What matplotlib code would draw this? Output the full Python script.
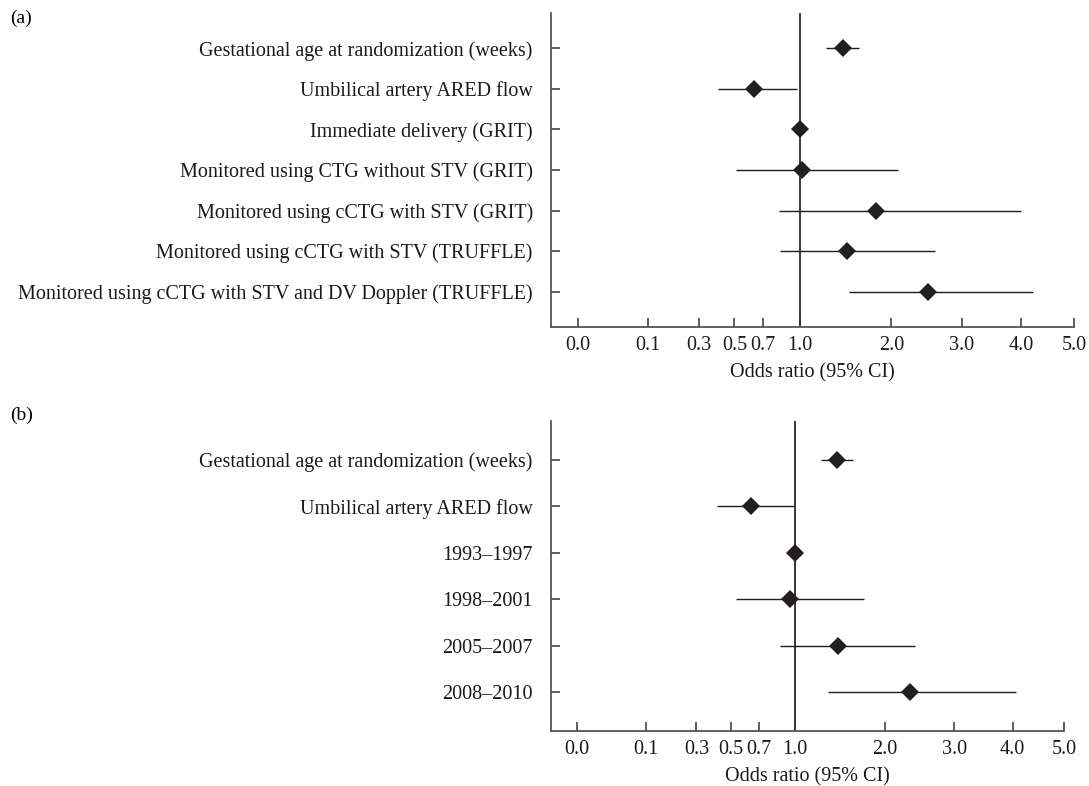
import matplotlib
matplotlib.use("Agg")
import matplotlib.pyplot as plt
import numpy as np

plt.rcParams['font.family'] = ['Liberation Serif', 'DejaVu Serif']

# panel (a)
labels_a = ["Gestational age at randomization (weeks)",
            "Umbilical artery ARED flow",
            "Immediate delivery (GRIT)",
            "Monitored using CTG without STV (GRIT)",
            "Monitored using cCTG with STV (GRIT)",
            "Monitored using cCTG with STV (TRUFFLE)",
            "Monitored using cCTG with STV and DV Doppler (TRUFFLE)"]
or_a = [1.43, 0.63, 1.00, 1.02, 1.81, 1.47, 2.50]
lo_a = [1.25, 0.40, 1.00, 0.51, 0.82, 0.83, 1.50]
hi_a = [1.61, 0.98, 1.00, 2.08, 4.00, 2.60, 4.21]

# panel (b)
labels_b = ["Gestational age at randomization (weeks)",
            "Umbilical artery ARED flow",
            "1993–1997",
            "1998–2001",
            "2005–2007",
            "2008–2010"]
or_b = [1.42, 0.64, 1.00, 0.96, 1.44, 2.33]
lo_b = [1.25, 0.41, 1.00, 0.53, 0.87, 1.33]
hi_b = [1.60, 1.00, 1.00, 1.74, 2.41, 4.07]

xticks = [0.0, 0.1, 0.3, 0.5, 0.7, 1.0, 2.0, 3.0, 4.0, 5.0]

FS = 14.5


# square-root axis (signed so the left margin below 0 works)
def fwd(x):
    return np.sign(x) * np.sqrt(np.abs(x))


def inv(y):
    return np.sign(y) * y ** 2


def forest(ax, labels, ors, lo, hi, pad_y):
    n = len(labels)
    y = np.arange(n, 0, -1)
    ax.set_xscale('function', functions=(fwd, inv))
    ax.axvline(1.0, color='#2a2a2a', lw=1.3, zorder=1)
    ax.hlines(y, lo, hi, color='#1e1e1e', lw=1.0, zorder=2)
    ax.plot(ors, y, 'D', color='#231f20', ms=8.8, mew=0, zorder=3)
    ax.set_xlim(-0.0145, 5.0)
    ax.set_ylim(1 - pad_y, n + pad_y)
    ax.set_yticks(y)
    ax.set_yticklabels(labels)
    ax.set_xticks(xticks)
    ax.set_xticklabels(["%.1f" % t for t in xticks])
    for s in ('top', 'right'):
        ax.spines[s].set_visible(False)
    for s in ('left', 'bottom'):
        ax.spines[s].set_color('#555555')
        ax.spines[s].set_linewidth(1.3)
    ax.tick_params(axis='y', direction='in', length=6.5, width=1.1,
                   color='#333333', labelsize=FS, pad=13, labelcolor='#1a1a1a')
    ax.tick_params(axis='x', direction='in', length=6.5, width=1.1,
                   color='#333333', labelsize=FS, pad=6, labelcolor='#1a1a1a')
    ax.set_xlabel("Odds ratio (95% CI)", fontsize=FS, labelpad=6, color='#1a1a1a')


fig = plt.figure(figsize=(10.89, 7.86), dpi=100)
ax_a = fig.add_axes([0.5058, 0.5836, 0.4803, 0.4003])
ax_b = fig.add_axes([0.5058, 0.0696, 0.4713, 0.3952])

forest(ax_a, labels_a, or_a, lo_a, hi_a, 0.88)
forest(ax_b, labels_b, or_b, lo_b, hi_b, 0.85)

fig.text(0.009, 1 - 18 / 786, "(a)", fontsize=FS - 0.5, va='center', ha='left')
fig.text(0.009, 1 - 415 / 786, "(b)", fontsize=FS - 0.5, va='center', ha='left')

fig.savefig("out.png", dpi=100)
